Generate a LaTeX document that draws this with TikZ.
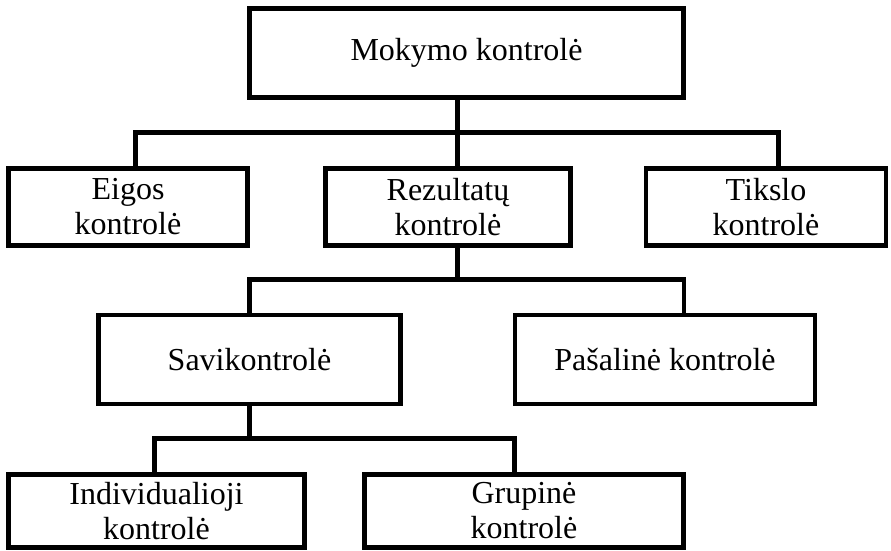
\documentclass[tikz,border=0pt]{standalone}
\usepackage{fontspec}
\setmainfont{Liberation Serif}
\usetikzlibrary{positioning}

\begin{document}
\begin{tikzpicture}[line cap=butt,line join=miter,x=1pt,y=-1pt]
\tikzstyle{every node}=[font=\fontsize{32}{35}\selectfont]
\tikzstyle{blok}=[draw,line width=4.7pt,inner sep=0pt,align=center]
\tikzstyle{jung}=[line width=4.7pt]
\useasboundingbox (0,0) rectangle (891,551);
% blokai
\node[blok,minimum width=434pt,minimum height=89pt] (mokymo) at (466.5,53) {Mokymo kontrolė};
\node[blok,minimum width=239pt,minimum height=77pt] (eigos) at (128,207) {Eigos\\kontrolė};
\node[blok,minimum width=245pt,minimum height=77pt] (rezult) at (448,207) {Rezultatų\\kontrolė};
\node[blok,minimum width=240pt,minimum height=77pt] (tikslo) at (766,207) {Tikslo\\kontrolė};
\node[blok,minimum width=302pt,minimum height=89pt] (savi) at (249.5,359.5) {Savikontrolė};
\node[blok,minimum width=300pt,minimum height=89pt] (pasal) at (665,359.5) {Pašalinė kontrolė};
\node[blok,minimum width=296pt,minimum height=73pt] (indiv) at (156.5,511) {Individualioji\\kontrolė};
\node[blok,minimum width=319pt,minimum height=73pt] (grup) at (524,511) {Grupinė\\kontrolė};
% jungtys
\coordinate (j1) at (457.5,132.5);
\coordinate (j1l) at (135.5,132.5);
\coordinate (j1r) at (778.5,132.5);
\draw[jung] (mokymo.south -| j1) -- (j1 |- rezult.north);
\draw[jung] (j1l |- eigos.north) -- (j1l) -- (j1r) -- (j1r |- tikslo.north);
\coordinate (j2) at (457.5,279.5);
\coordinate (j2l) at (249.5,279.5);
\coordinate (j2r) at (684,279.5);
\draw[jung] (rezult.south -| j2) -- (j2);
\draw[jung] (j2l |- savi.north) -- (j2l) -- (j2r) -- (j2r |- pasal.north);
\coordinate (j3) at (249.5,438.5);
\coordinate (j3l) at (154.5,438.5);
\coordinate (j3r) at (514.5,438.5);
\draw[jung] (savi.south -| j3) -- (j3);
\draw[jung] (j3l |- indiv.north) -- (j3l) -- (j3r) -- (j3r |- grup.north);
\end{tikzpicture}
\end{document}
